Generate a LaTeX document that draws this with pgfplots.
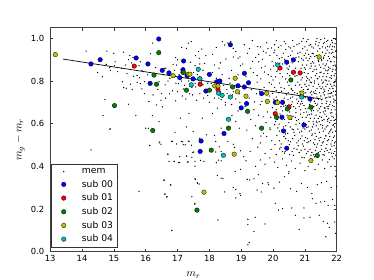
\documentclass[border=0pt]{standalone}
\usepackage{pgfplots}
\pgfplotsset{compat=1.18}
\usepackage{fontspec}
\setmainfont{DejaVu Sans}
\definecolor{mplb}{rgb}{0,0,1}
\definecolor{mplr}{rgb}{1,0,0}
\definecolor{mplg}{rgb}{0,0.5,0}
\definecolor{mply}{rgb}{0.75,0.75,0}
\definecolor{mplc}{rgb}{0,0.75,0.75}
\begin{document}
\begin{tikzpicture}
\useasboundingbox (0,0) rectangle (374pt,280pt);
\begin{axis}[
  at={(50.2pt,28.3pt)}, anchor=south west,
  scale only axis, width=286.5pt, height=224pt,
  xmin=13, xmax=22, ymin=0, ymax=1.05,
  xtick={13,14,15,16,17,18,19,20,21,22},
  ytick={0,0.2,0.4,0.6,0.8,1.0},
  /pgf/number format/assume math mode=true,
  tick label style={font=\fontsize{8.4}{10}\selectfont},
  yticklabel style={/pgf/number format/fixed, /pgf/number format/fixed zerofill, /pgf/number format/precision=1, xshift=-2.5pt},
  major tick length=3pt,
  tick style={black!80, line width=0.5pt},
  axis line style={black!75, line width=0.6pt},
  xlabel={$m_r$}, ylabel={$m_g-m_r$},
  label style={font=\fontsize{11}{13}\selectfont},
  xlabel style={at={(axis description cs:0.5,-0.104)}, anchor=center},
  ylabel style={at={(axis description cs:-0.105,0.5)}, anchor=center},
  legend style={at={(0.004,0.019)}, anchor=south west, draw=black!80, line width=0.5pt,
    font=\fontsize{9.2}{11}\selectfont, row sep=1.2pt, column sep=0pt,
    inner xsep=2pt, inner ysep=1.8pt},
  legend image code/.code={\path (-10pt,0pt) (16pt,0pt); \draw[mark repeat=1,#1] plot coordinates {(0pt,0pt)};},
  legend cell align=left,
  clip=true,
]
\addplot[only marks, mark=*, mark size=0.38pt, draw=none, fill=black!75] table {
x y
14.13 0.94
14.78 0.94
15.0 0.93
15.30 0.935
15.50 0.92
15.60 0.91
15.46 0.90
15.56 0.885
15.37 0.875
15.25 0.86
15.04 0.89
15.02 0.872
14.87 0.863
14.76 0.878
14.89 0.85
14.64 0.82
14.49 0.84
15.12 0.844
15.41 0.835
15.62 0.822
15.73 0.826
15.81 0.816
15.88 0.85
15.79 0.872
15.83 0.89
15.92 0.844
15.96 0.797
15.83 0.788
15.73 0.794
15.27 0.797
15.39 0.766
15.52 0.785
15.31 0.769
15.58 0.76
15.88 0.763
15.96 0.741
14.72 0.713
15.46 0.691
14.66 0.638
15.69 0.638
14.89 0.576
16.0 0.579
14.28 0.477
14.87 0.574
16.12 0.498
16.42 0.51
16.82 0.518
16.97 0.505
17.16 0.515
17.24 0.501
17.34 0.518
17.44 0.499
16.70 0.457
16.89 0.424
17.07 0.418
17.29 0.449
17.33 0.421
17.48 0.465
17.55 0.424
17.72 0.428
16.57 0.335
16.79 0.312
17.56 0.339
17.63 0.32
17.54 0.223
16.82 0.10
15.79 0.283
16.60 0.27
16.66 0.256
16.21 0.978
16.15 0.928
16.44 0.938
16.94 0.91
17.13 0.957
17.34 0.978
17.43 0.985
17.28 0.953
17.66 0.938
17.76 0.95
17.57 0.919
17.68 0.907
17.89 0.919
18.10 0.925
18.22 0.957
18.41 0.985
18.48 0.969
18.58 0.978
18.67 0.985
18.75 0.953
18.83 0.938
18.90 0.907
18.96 0.913
18.75 0.913
18.52 0.903
18.35 0.885
18.16 0.875
17.85 0.882
17.41 0.888
17.55 0.872
16.97 0.875
16.86 0.878
16.63 0.86
16.31 0.863
16.06 0.829
16.42 0.797
16.61 0.782
16.76 0.813
17.03 0.788
17.18 0.763
16.84 0.754
16.50 0.741
16.23 0.735
16.10 0.704
16.34 0.688
16.63 0.72
16.94 0.707
17.26 0.716
17.47 0.735
17.70 0.741
17.57 0.772
17.80 0.782
18.06 0.788
18.22 0.813
18.62 0.813
18.83 0.813
18.90 0.829
18.98 0.872
18.56 0.741
18.73 0.735
18.37 0.713
18.16 0.72
17.95 0.732
18.83 0.716
18.96 0.70
18.50 0.688
18.25 0.673
18.10 0.648
17.78 0.626
17.36 0.648
17.09 0.626
17.28 0.585
17.49 0.563
17.91 0.548
18.16 0.545
18.37 0.579
18.71 0.638
18.83 0.61
18.64 0.585
18.94 0.579
17.70 0.532
16.92 0.56
16.52 0.679
16.21 0.638
16.42 0.61
16.08 0.579
16.55 0.83
16.70 0.80
16.85 0.82
16.95 0.79
17.05 0.83
17.12 0.80
17.22 0.78
17.35 0.80
17.45 0.77
17.55 0.79
17.62 0.83
17.75 0.80
17.85 0.76
17.95 0.79
18.05 0.76
18.15 0.80
18.25 0.77
18.35 0.75
18.45 0.78
18.55 0.76
18.65 0.79
18.75 0.75
18.85 0.77
18.95 0.74
16.38 0.76
16.48 0.71
16.75 0.74
17.0 0.75
17.15 0.73
17.38 0.74
17.6 0.71
17.82 0.72
18.0 0.70
18.3 0.72
18.5 0.70
18.7 0.69
18.9 0.66
16.6 0.86
16.9 0.85
17.2 0.86
17.5 0.84
17.8 0.85
18.1 0.84
18.4 0.83
18.7 0.85
17.0 0.90
17.7 0.88
18.3 0.86
16.13 0.498
16.44 0.514
16.48 0.504
16.84 0.517
17.13 0.517
17.18 0.501
17.36 0.517
16.69 0.457
17.07 0.445
17.28 0.448
16.73 0.423
16.9 0.423
17.03 0.417
17.32 0.42
17.45 0.442
17.51 0.467
17.55 0.401
17.83 0.423
18.2 0.517
18.31 0.492
18.37 0.47
18.2 0.467
18.29 0.429
18.22 0.417
18.37 0.426
18.58 0.517
18.75 0.504
18.81 0.376
18.98 0.386
18.98 0.473
18.79 0.489
16.59 0.336
16.78 0.314
17.55 0.342
17.62 0.323
17.68 0.317
18.48 0.28
18.75 0.301
18.83 0.292
18.96 0.273
18.98 0.264
18.25 0.358
18.37 0.345
18.43 0.342
17.45 0.258
16.61 0.27
16.67 0.258
17.55 0.227
18.83 0.252
18.27 0.149
16.82 0.099
19.1 0.97
19.35 0.99
19.6 0.96
19.8 0.98
19.95 0.955
20.1 0.99
20.25 0.965
20.4 0.975
20.55 0.955
20.62 0.99
20.75 0.97
20.9 0.985
21.0 0.96
21.1 0.995
21.18 0.97
21.27 0.955
21.35 0.985
21.42 0.965
21.5 0.995
21.58 0.975
21.65 0.955
21.72 0.99
21.8 0.97
21.86 0.98
21.93 0.96
21.97 0.995
21.62 1.0
21.38 0.999
21.9 0.999
20.95 0.999
19.2 0.93
19.45 0.91
19.7 0.94
19.9 0.92
20.05 0.945
20.2 0.905
20.32 0.93
20.48 0.915
20.6 0.94
20.72 0.91
20.85 0.935
20.98 0.92
21.07 0.945
21.15 0.905
21.23 0.93
21.31 0.915
21.4 0.94
21.47 0.91
21.55 0.935
21.62 0.92
21.7 0.945
21.77 0.905
21.83 0.93
21.9 0.915
21.96 0.94
21.52 0.902
21.12 0.925
20.4 0.948
19.55 0.925
21.85 0.948
19.05 0.88
19.3 0.86
19.55 0.89
19.75 0.87
19.92 0.855
20.08 0.885
20.22 0.865
20.38 0.895
20.52 0.87
20.7 0.86
20.8 0.89
20.92 0.875
21.02 0.855
21.1 0.895
21.2 0.87
21.28 0.885
21.36 0.855
21.45 0.875
21.53 0.895
21.6 0.86
21.68 0.88
21.75 0.865
21.82 0.89
21.88 0.855
21.95 0.875
21.99 0.86
21.42 0.898
20.15 0.852
21.65 0.851
20.95 0.898
19.15 0.82
19.38 0.84
19.62 0.81
19.85 0.83
20.0 0.805
20.12 0.845
20.3 0.82
20.45 0.835
20.58 0.81
20.75 0.825
20.88 0.805
20.98 0.84
21.05 0.82
21.14 0.805
21.25 0.845
21.33 0.825
21.41 0.81
21.48 0.84
21.57 0.82
21.64 0.805
21.72 0.835
21.79 0.815
21.86 0.845
21.92 0.825
21.97 0.805
21.3 0.80
21.7 0.848
20.65 0.848
21.05 0.801
19.5 0.826
19.08 0.78
19.32 0.76
19.5 0.795
19.72 0.77
19.95 0.785
20.1 0.755
20.2 0.79
20.35 0.765
20.5 0.78
20.62 0.755
20.78 0.795
20.9 0.77
21.0 0.785
21.08 0.76
21.17 0.795
21.26 0.775
21.34 0.755
21.43 0.785
21.51 0.765
21.59 0.795
21.66 0.775
21.74 0.755
21.81 0.785
21.88 0.765
21.94 0.795
21.98 0.775
21.2 0.752
21.62 0.752
20.85 0.752
21.9 0.752
19.25 0.72
19.48 0.74
19.65 0.705
19.88 0.73
20.03 0.715
20.18 0.745
20.28 0.71
20.42 0.735
20.55 0.72
20.68 0.745
20.8 0.705
20.95 0.73
21.03 0.745
21.12 0.715
21.22 0.735
21.3 0.705
21.38 0.725
21.46 0.745
21.54 0.715
21.61 0.735
21.69 0.705
21.76 0.725
21.84 0.745
21.91 0.715
21.97 0.735
20.9 0.705
21.27 0.748
21.8 0.702
19.78 0.748
20.6 0.702
19.12 0.68
19.4 0.665
19.6 0.69
19.82 0.655
19.98 0.675
20.15 0.695
20.3 0.66
20.4 0.685
20.52 0.655
20.65 0.68
20.77 0.695
20.87 0.665
20.97 0.685
21.06 0.655
21.15 0.69
21.24 0.67
21.33 0.695
21.41 0.66
21.5 0.68
21.58 0.655
21.67 0.695
21.73 0.67
21.81 0.65
21.87 0.685
21.95 0.665
21.99 0.695
21.1 0.67
21.62 0.675
20.72 0.652
19.3 0.62
19.55 0.64
19.78 0.605
19.93 0.63
20.08 0.61
20.22 0.645
20.36 0.62
20.5 0.605
20.63 0.635
20.74 0.615
20.86 0.645
20.96 0.605
21.04 0.63
21.13 0.61
21.21 0.645
21.3 0.625
21.38 0.605
21.47 0.635
21.55 0.615
21.63 0.645
21.71 0.62
21.78 0.605
21.85 0.635
21.92 0.615
21.98 0.645
21.45 0.61
19.18 0.57
19.45 0.59
19.7 0.555
19.9 0.58
20.05 0.595
20.2 0.565
20.33 0.585
20.46 0.555
20.6 0.575
20.72 0.595
20.84 0.56
20.94 0.58
21.05 0.595
21.14 0.565
21.24 0.585
21.32 0.555
21.42 0.575
21.5 0.595
21.58 0.565
21.67 0.585
21.75 0.555
21.83 0.575
21.9 0.595
21.96 0.565
21.28 0.598
19.35 0.53
19.6 0.51
19.8 0.54
19.96 0.52
20.12 0.545
20.26 0.505
20.4 0.53
20.55 0.515
20.68 0.545
20.8 0.52
20.92 0.505
21.02 0.535
21.12 0.515
21.22 0.545
21.32 0.525
21.4 0.505
21.5 0.535
21.58 0.515
21.66 0.545
21.74 0.525
21.82 0.505
21.9 0.535
21.97 0.515
19.28 0.47
19.52 0.49
19.75 0.46
19.94 0.48
20.1 0.455
20.25 0.49
20.38 0.47
20.52 0.455
20.66 0.485
20.82 0.465
20.95 0.495
21.05 0.46
21.16 0.48
21.28 0.455
21.37 0.49
21.48 0.47
21.57 0.455
21.66 0.485
21.76 0.465
21.85 0.495
21.94 0.47
19.08 0.445
19.15 0.426
19.19 0.339
19.27 0.336
19.4 0.342
19.54 0.361
19.67 0.32
19.84 0.323
19.86 0.314
20.03 0.298
20.2 0.326
20.36 0.351
20.49 0.367
20.55 0.295
20.74 0.283
20.89 0.32
21.08 0.301
21.22 0.273
21.39 0.314
21.52 0.323
21.69 0.329
21.83 0.301
21.96 0.354
22.0 0.305
20.07 0.227
20.3 0.202
20.59 0.205
20.97 0.205
21.24 0.248
21.35 0.227
21.5 0.233
21.62 0.236
21.73 0.217
21.87 0.245
21.94 0.217
19.21 0.152
19.44 0.161
19.21 0.127
19.75 0.13
20.82 0.105
21.16 0.161
21.45 0.171
21.58 0.142
21.71 0.133
21.77 0.114
21.94 0.139
19.4 0.095
19.25 0.043
19.21 0.033
21.66 0.07
21.96 0.086
20.97 0.158
20.7 0.171
20.17 0.195
19.5 0.289
19.63 0.28
19.6 0.43
19.75 0.41
19.9 0.44
20.05 0.42
20.15 0.395
20.3 0.435
20.42 0.405
20.58 0.425
20.7 0.39
20.85 0.415
20.98 0.44
21.1 0.40
21.2 0.425
21.32 0.385
21.42 0.41
21.55 0.43
21.62 0.39
21.72 0.42
21.82 0.40
21.92 0.435
21.98 0.38
20.5 0.375
21.0 0.38
19.45 0.40
21.3 0.445
21.86 0.445
20.05 0.97
20.35 0.985
20.5 0.96
20.82 0.975
21.05 0.985
21.22 0.96
21.45 0.98
21.55 0.96
21.68 0.985
21.77 0.96
21.84 0.99
21.95 0.975
20.12 0.92
20.28 0.91
20.55 0.92
20.78 0.93
20.9 0.905
21.02 0.93
21.18 0.915
21.36 0.92
21.58 0.905
21.66 0.93
21.74 0.915
21.88 0.935
21.99 0.91
20.02 0.87
20.3 0.88
20.48 0.855
20.6 0.885
20.88 0.86
21.06 0.875
21.16 0.86
21.24 0.89
21.32 0.87
21.5 0.865
21.57 0.88
21.72 0.895
21.79 0.86
21.92 0.89
21.97 0.87
20.08 0.82
20.22 0.835
20.4 0.81
20.52 0.825
20.82 0.835
20.92 0.815
21.1 0.835
21.2 0.815
21.37 0.835
21.45 0.82
21.53 0.805
21.6 0.835
21.68 0.82
21.76 0.80
21.83 0.825
21.95 0.835
21.99 0.815
20.05 0.77
20.25 0.77
20.45 0.795
20.58 0.765
20.7 0.78
20.96 0.76
21.04 0.775
21.13 0.78
21.3 0.79
21.38 0.765
21.47 0.775
21.55 0.79
21.7 0.785
21.78 0.765
21.85 0.775
21.92 0.78
20.1 0.725
20.35 0.72
20.48 0.745
20.62 0.725
20.75 0.715
20.85 0.735
21.08 0.725
21.17 0.745
21.26 0.72
21.35 0.74
21.43 0.715
21.5 0.73
21.58 0.745
21.65 0.72
21.73 0.74
21.8 0.725
21.88 0.73
21.95 0.71
20.1 0.665
20.25 0.68
20.46 0.67
20.58 0.69
20.82 0.68
20.92 0.695
21.02 0.67
21.2 0.66
21.28 0.68
21.37 0.685
21.45 0.67
21.54 0.695
21.64 0.66
21.7 0.68
21.78 0.69
21.84 0.665
21.92 0.68
20.14 0.62
20.28 0.63
20.44 0.64
20.57 0.62
20.7 0.63
20.8 0.62
20.92 0.63
21.08 0.64
21.17 0.625
21.26 0.61
21.35 0.64
21.42 0.625
21.52 0.63
21.6 0.62
21.68 0.635
21.75 0.625
21.82 0.615
21.9 0.63
21.96 0.62
20.15 0.58
20.28 0.57
20.4 0.59
20.54 0.585
20.66 0.56
20.78 0.575
20.9 0.565
21.0 0.575
21.1 0.585
21.2 0.57
21.36 0.59
21.46 0.56
21.55 0.58
21.63 0.575
21.72 0.59
21.8 0.57
21.87 0.56
21.93 0.585
20.2 0.52
20.34 0.54
20.48 0.52
20.62 0.53
20.75 0.51
20.86 0.53
20.98 0.52
21.08 0.53
21.18 0.52
21.27 0.51
21.36 0.54
21.45 0.52
21.55 0.51
21.62 0.53
21.7 0.52
21.78 0.54
21.86 0.52
21.93 0.51
20.3 0.47
20.45 0.48
20.6 0.47
20.75 0.48
20.88 0.475
21.0 0.48
21.1 0.47
21.22 0.465
21.33 0.475
21.42 0.465
21.53 0.48
21.62 0.47
21.7 0.475
21.8 0.48
21.9 0.46
21.98 0.485
20.03 0.932
20.17 0.958
20.21 0.883
20.37 0.902
20.44 0.861
20.58 0.903
20.66 0.962
20.69 0.823
20.81 0.913
20.84 0.782
20.93 0.952
20.99 0.862
21.04 0.908
21.09 0.812
21.13 0.968
21.19 0.882
21.21 0.792
21.26 0.928
21.29 0.852
21.34 0.973
21.39 0.812
21.43 0.892
21.47 0.952
21.51 0.842
21.56 0.772
21.59 0.912
21.61 0.982
21.64 0.872
21.67 0.802
21.71 0.962
21.74 0.852
21.76 0.932
21.79 0.742
21.81 0.892
21.84 0.812
21.87 0.962
21.89 0.872
21.91 0.792
21.94 0.912
21.96 0.852
21.98 0.752
21.99 0.942
20.02 0.652
20.13 0.712
20.19 0.598
20.27 0.752
20.34 0.682
20.39 0.552
20.47 0.712
20.53 0.632
20.57 0.762
20.64 0.572
20.71 0.672
20.76 0.742
20.83 0.602
20.86 0.692
20.91 0.542
20.97 0.652
21.01 0.722
21.06 0.582
21.11 0.762
21.14 0.642
21.18 0.702
21.23 0.552
21.27 0.662
21.31 0.742
21.36 0.612
21.4 0.692
21.44 0.532
21.48 0.652
21.52 0.712
21.56 0.592
21.6 0.762
21.63 0.672
21.66 0.542
21.69 0.722
21.72 0.612
21.75 0.682
21.78 0.562
21.82 0.742
21.85 0.652
21.88 0.592
21.91 0.702
21.93 0.542
21.96 0.752
21.99 0.632
20.06 0.502
20.21 0.482
20.36 0.462
20.51 0.502
20.64 0.452
20.79 0.497
20.91 0.442
21.07 0.512
21.19 0.452
21.31 0.502
21.41 0.442
21.51 0.497
21.61 0.452
21.69 0.502
21.77 0.432
21.84 0.462
21.92 0.497
21.97 0.452
19.52 0.962
19.67 0.902
19.73 0.842
19.84 0.952
19.88 0.792
19.97 0.892
19.58 0.752
19.69 0.632
19.82 0.702
19.91 0.572
19.42 0.702
19.36 0.892
19.26 0.952
19.62 0.542
19.99 0.742
19.94 0.822
19.78 0.932
19.64 0.862
};
\addlegendentry{mem}
\addplot[black, line width=0.7pt, forget plot] coordinates {(13.4,0.903) (21.5,0.716)};
\addplot[only marks, mark=*, mark size=2.3pt, draw=black, line width=0.3pt, fill=mplb] table {
x y
14.28 0.880
14.57 0.900
15.70 0.908
16.07 0.880
16.14 0.789
16.41 0.997
16.52 0.850
16.73 0.838
17.19 0.894
17.17 0.853
17.07 0.816
17.30 0.825
17.49 0.810
17.70 0.810
17.89 0.753
18.00 0.831
18.25 0.797
18.33 0.800
18.66 0.970
18.90 0.778
19.10 0.772
19.10 0.836
19.23 0.792
19.00 0.674
19.17 0.694
19.64 0.741
18.46 0.554
17.74 0.519
17.71 0.470
20.07 0.700
20.30 0.700
20.28 0.630
20.43 0.888
20.64 0.899
20.33 0.566
20.43 0.485
20.97 0.594
21.16 0.716
};
\addlegendentry{sub 00}
\addplot[only marks, mark=*, mark size=2.3pt, draw=black, line width=0.3pt, fill=mplr] table {
x y
15.64 0.870
17.17 0.841
17.71 0.785
18.27 0.760
20.22 0.861
20.64 0.841
20.85 0.838
20.07 0.647
20.50 0.679
};
\addlegendentry{sub 01}
\addplot[only marks, mark=*, mark size=2.3pt, draw=black, line width=0.3pt, fill=mplg] table {
x y
15.02 0.685
16.22 0.568
16.41 0.933
16.26 0.828
16.34 0.785
17.19 0.841
17.28 0.757
18.00 0.757
18.06 0.476
17.61 0.195
18.60 0.579
18.73 0.772
19.20 0.658
19.64 0.579
20.11 0.630
20.45 0.669
20.56 0.805
21.19 0.677
21.39 0.451
};
\addlegendentry{sub 02}
\addplot[only marks, mark=*, mark size=2.3pt, draw=black, line width=0.3pt, fill=mply] table {
x y
13.16 0.924
16.86 0.825
17.34 0.832
17.39 0.832
18.17 0.777
18.27 0.777
18.81 0.813
18.88 0.750
19.15 0.729
19.80 0.743
19.82 0.704
20.14 0.699
20.53 0.629
20.91 0.744
21.45 0.913
21.19 0.427
18.78 0.457
17.83 0.279
};
\addlegendentry{sub 03}
\addplot[only marks, mark=*, mark size=2.3pt, draw=black, line width=0.3pt, fill=mplc] table {
x y
17.65 0.855
17.43 0.782
17.70 0.811
18.29 0.743
18.40 0.733
18.66 0.725
18.60 0.621
18.44 0.452
20.15 0.875
20.90 0.725
};
\addlegendentry{sub 04}
\end{axis}
\end{tikzpicture}
\end{document}
